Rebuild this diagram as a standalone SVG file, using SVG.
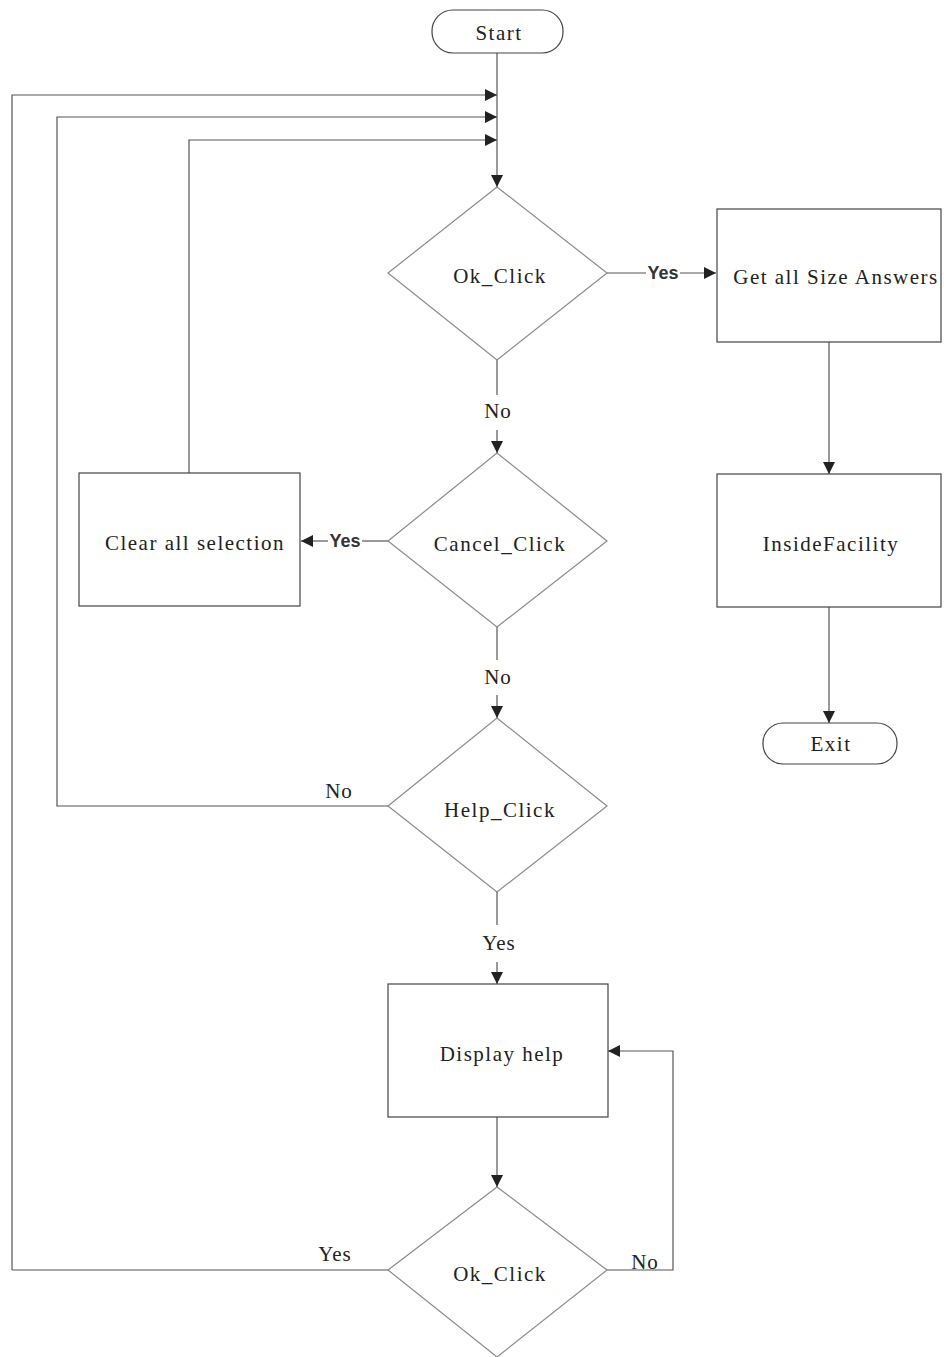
<svg xmlns="http://www.w3.org/2000/svg" width="946" height="1357" viewBox="0 0 946 1357">
  <style>
    .shape { fill: #ffffff; stroke: #444444; stroke-width: 1.2; }
    .dia { fill: #ffffff; stroke: #8a8a8a; stroke-width: 1.2; }
    .line { fill: none; stroke: #555555; stroke-width: 1.2; }
    .t { font-family: "Liberation Serif", "Times New Roman", serif; font-size: 21px; letter-spacing: 1.5px; fill: #222222; text-anchor: middle; }
    .lbl { font-family: "Liberation Serif", "Times New Roman", serif; font-size: 21px; letter-spacing: 1px; fill: #222222; text-anchor: middle; }
    .sans { font-family: "Liberation Sans", Arial, sans-serif; font-size: 18px; font-weight: bold; fill: #333333; text-anchor: middle; }
  </style>
  <defs>
    <marker id="arrow" viewBox="0 0 10 10" refX="10" refY="5" markerWidth="12" markerHeight="12" markerUnits="userSpaceOnUse" orient="auto">
      <path d="M0,0 L10,5 L0,10 z" fill="#222222"/>
    </marker>
  </defs>
  <rect width="946" height="1357" fill="#ffffff"/>

  <!-- connectors -->
  <g id="connectors">
    <!-- start down to first decision -->
    <line class="line" x1="497" y1="53" x2="497" y2="187" marker-end="url(#arrow)"/>
    <!-- loop-back lines -->
    <polyline class="line" points="12,1270 12,95 497,95" marker-end="url(#arrow)"/>
    <polyline class="line" points="388,806 57,806 57,117 497,117" marker-end="url(#arrow)"/>
    <polyline class="line" points="189,473 189,140 497,140" marker-end="url(#arrow)"/>
    <!-- Ok_Click yes -->
    <line class="line" x1="607" y1="273" x2="646" y2="273"/>
    <line class="line" x1="680" y1="273" x2="716" y2="273" marker-end="url(#arrow)"/>
    <!-- right column -->
    <line class="line" x1="829" y1="342" x2="829" y2="474" marker-end="url(#arrow)"/>
    <line class="line" x1="829" y1="607" x2="829" y2="723" marker-end="url(#arrow)"/>
    <!-- Ok_Click no -->
    <line class="line" x1="497" y1="360" x2="497" y2="395"/>
    <line class="line" x1="497" y1="430" x2="497" y2="453" marker-end="url(#arrow)"/>
    <!-- Cancel yes -->
    <line class="line" x1="388" y1="541" x2="362" y2="541"/>
    <line class="line" x1="328" y1="541" x2="301" y2="541" marker-end="url(#arrow)"/>
    <!-- Cancel no -->
    <line class="line" x1="497" y1="627" x2="497" y2="660"/>
    <line class="line" x1="497" y1="695" x2="497" y2="718" marker-end="url(#arrow)"/>
    <!-- Help yes -->
    <line class="line" x1="497" y1="892" x2="497" y2="925"/>
    <line class="line" x1="497" y1="962" x2="497" y2="984" marker-end="url(#arrow)"/>
    <!-- Display help to Ok_Click -->
    <line class="line" x1="497" y1="1117" x2="497" y2="1187" marker-end="url(#arrow)"/>
    <!-- Ok_Click no loop -->
    <polyline class="line" points="607,1270 673,1270 673,1051 608,1051" marker-end="url(#arrow)"/>
    <!-- Ok_Click yes back to top (joins the outer loop) -->
    <line class="line" x1="388" y1="1270" x2="12" y2="1270"/>

    <text class="sans" x="663" y="279">Yes</text>
    <text class="sans" x="345" y="547">Yes</text>
    <text class="lbl" x="498" y="418">No</text>
    <text class="lbl" x="498" y="684">No</text>
    <text class="lbl" x="339" y="798">No</text>
    <text class="lbl" x="499" y="950">Yes</text>
    <text class="lbl" x="335" y="1261">Yes</text>
    <text class="lbl" x="645" y="1269">No</text>
  </g>

  <g id="start">
    <rect class="shape" x="432" y="10" width="131" height="43" rx="21" ry="21"/>
    <text class="t" x="499" y="40">Start</text>
  </g>

  <g id="ok-click-1">
    <polygon class="dia" points="497,187 607,273 497,360 388,273"/>
    <text class="t" x="500" y="283">Ok_Click</text>
  </g>

  <g id="get-size-answers">
    <rect class="shape" x="717" y="209" width="224" height="133"/>
    <text class="t" x="836" y="284">Get all Size Answers</text>
  </g>

  <g id="inside-facility">
    <rect class="shape" x="717" y="474" width="224" height="133"/>
    <text class="t" x="831" y="551">InsideFacility</text>
  </g>

  <g id="exit">
    <rect class="shape" x="763" y="723" width="134" height="41" rx="20" ry="20"/>
    <text class="t" x="831" y="751">Exit</text>
  </g>

  <g id="cancel-click">
    <polygon class="dia" points="497,453 607,541 497,627 388,541"/>
    <text class="t" x="500" y="551">Cancel_Click</text>
  </g>

  <g id="clear-selection">
    <rect class="shape" x="79" y="473" width="221" height="133"/>
    <text class="t" x="195" y="550">Clear all selection</text>
  </g>

  <g id="help-click">
    <polygon class="dia" points="497,718 607,806 497,892 388,806"/>
    <text class="t" x="500" y="817">Help_Click</text>
  </g>

  <g id="display-help">
    <rect class="shape" x="388" y="984" width="220" height="133"/>
    <text class="t" x="502" y="1061">Display help</text>
  </g>

  <g id="ok-click-2">
    <polygon class="dia" points="497,1187 607,1270 497,1357 388,1270"/>
    <text class="t" x="500" y="1281">Ok_Click</text>
  </g>
</svg>
